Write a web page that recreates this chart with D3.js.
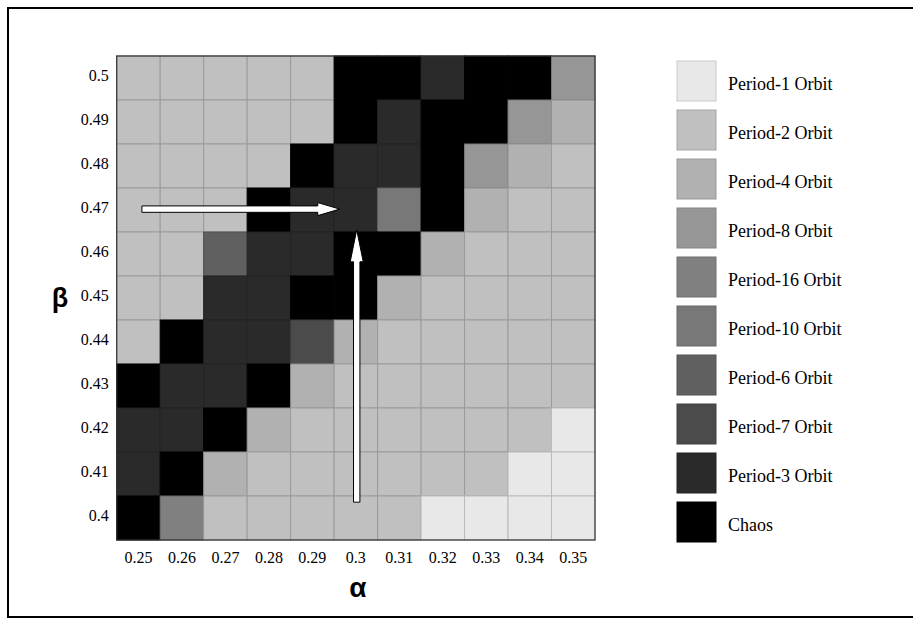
<!DOCTYPE html>
<html>
<head>
<meta charset="utf-8">
<script src="https://cdn.jsdelivr.net/npm/d3@7"></script>
<style>
  html, body { margin: 0; padding: 0; background: #fff; }
  svg { display: block; }
</style>
</head>
<body>
<svg id="chart" width="913" height="619"></svg>
<script>
// ---------------- DATA ----------------
const alphas = [0.25, 0.26, 0.27, 0.28, 0.29, 0.3, 0.31, 0.32, 0.33, 0.34, 0.35];
const betas  = [0.5, 0.49, 0.48, 0.47, 0.46, 0.45, 0.44, 0.43, 0.42, 0.41, 0.4];
const alphaTickLabels = ["0.25","0.26","0.27","0.28","0.29","0.3","0.31","0.32","0.33","0.34","0.35"];
const betaTickLabels  = ["0.5","0.49","0.48","0.47","0.46","0.45","0.44","0.43","0.42","0.41","0.4"];

const orbitLabels = ["Period-1 Orbit","Period-2 Orbit","Period-4 Orbit","Period-8 Orbit",
  "Period-16 Orbit","Period-10 Orbit","Period-6 Orbit","Period-7 Orbit","Period-3 Orbit","Chaos"];
const orbitColors = ["#e8e8e8","#c0c0c0","#b1b1b1","#969696","#808080",
  "#787878","#606060","#4b4b4b","#2a2a2a","#000000"];

// orbit class index per cell: rows = betas (top to bottom), cols = alphas
const orbitGrid = [
  [1,1,1,1,1,9,9,8,9,9,3],
  [1,1,1,1,1,9,8,9,9,3,2],
  [1,1,1,1,9,8,8,9,3,2,1],
  [1,1,1,9,8,8,5,9,2,1,1],
  [1,1,6,8,8,9,9,2,1,1,1],
  [1,1,8,8,9,9,2,1,1,1,1],
  [1,9,8,8,7,2,1,1,1,1,1],
  [9,8,8,9,2,1,1,1,1,1,1],
  [8,8,9,2,1,1,1,1,1,1,0],
  [8,9,2,1,1,1,1,1,1,0,0],
  [9,4,1,1,1,1,1,0,0,0,0]
];

// annotation arrows in (alpha, beta) coordinates
const arrowFrom = [[0.2508, 0.4702], [0.3002, 0.4036]];
const arrowTo   = [[0.2963, 0.4702], [0.3002, 0.4655]];

// ---------------- LAYOUT ----------------
const svg = d3.select("#chart");
const plot = { left: 116.7, right: 595, top: 56, bottom: 540 };

// outer frame (right edge runs off the canvas as in the reference)
svg.append("rect")
  .attr("x", 8).attr("y", 8).attr("width", 920).attr("height", 609)
  .attr("fill", "none").attr("stroke", "#000").attr("stroke-width", 2);

const x = d3.scaleBand().domain(alphas).range([plot.left, plot.right]);
const y = d3.scaleBand().domain(betas).range([plot.top, plot.bottom]);
const xLin = d3.scaleLinear().domain([0.245, 0.355]).range([plot.left, plot.right]);
const yLin = d3.scaleLinear().domain([0.395, 0.505]).range([plot.bottom, plot.top]);
const color = d3.scaleOrdinal().domain(d3.range(orbitLabels.length)).range(orbitColors);

const cells = [];
betas.forEach((b, i) => alphas.forEach((a, j) => cells.push({ a, b, k: orbitGrid[i][j] })));

svg.append("g").selectAll("rect").data(cells).join("rect")
  .attr("x", d => x(d.a)).attr("y", d => y(d.b))
  .attr("width", x.bandwidth()).attr("height", y.bandwidth())
  .attr("fill", d => color(d.k))
  .attr("stroke", d => d3.color(color(d.k)).darker(0.6).formatHex())
  .attr("stroke-width", 1);

// plot frame
svg.append("rect")
  .attr("x", plot.left).attr("y", plot.top)
  .attr("width", plot.right - plot.left).attr("height", plot.bottom - plot.top)
  .attr("fill", "none").attr("stroke", "#333").attr("stroke-width", 1.2);

// axes
const tickFont = "'Liberation Serif', 'Times New Roman', serif";
const xAxis = svg.append("g").attr("transform", `translate(0,${plot.bottom})`)
  .call(d3.axisBottom(x).tickSize(0).tickPadding(0).tickFormat((d, i) => alphaTickLabels[i]));
xAxis.select(".domain").remove();
xAxis.selectAll("text").attr("font-family", tickFont).attr("font-size", 16)
  .attr("fill", "#000").attr("dy", null).attr("y", 23);

const yAxis = svg.append("g").attr("transform", `translate(${plot.left},0)`)
  .call(d3.axisLeft(y).tickSize(0).tickPadding(8).tickFormat((d, i) => betaTickLabels[i]));
yAxis.select(".domain").remove();
yAxis.selectAll("text").attr("font-family", tickFont).attr("font-size", 16)
  .attr("fill", "#000").attr("dy", "0.18em");

// axis titles
svg.append("text").text("α")
  .attr("x", (plot.left + plot.right) / 2 + 2).attr("y", 597)
  .attr("text-anchor", "middle")
  .attr("font-family", "'Liberation Sans', Arial, sans-serif")
  .attr("font-weight", "bold").attr("font-size", 28).attr("fill", "#000");
svg.append("text").text("β")
  .attr("x", 60).attr("y", 307)
  .attr("text-anchor", "middle")
  .attr("font-family", "'Liberation Sans', Arial, sans-serif")
  .attr("font-weight", "bold").attr("font-size", 27).attr("fill", "#000");

// arrows
const arrowHead = [{ len: 22, half: 6.5 }, { len: 32, half: 6.5 }];
const bodyHalf = 3.2;
arrowFrom.forEach((f, i) => {
  const x0 = xLin(f[0]), y0 = yLin(f[1]);
  const x1 = xLin(arrowTo[i][0]), y1 = yLin(arrowTo[i][1]);
  const dx = x1 - x0, dy = y1 - y0, L = Math.hypot(dx, dy);
  const ux = dx / L, uy = dy / L, nx = -uy, ny = ux;
  const h = arrowHead[i];
  const bx = x1 - ux * h.len, by = y1 - uy * h.len;
  const pts = [
    [x0 + nx * bodyHalf, y0 + ny * bodyHalf],
    [bx + nx * bodyHalf, by + ny * bodyHalf],
    [bx + nx * h.half, by + ny * h.half],
    [x1, y1],
    [bx - nx * h.half, by - ny * h.half],
    [bx - nx * bodyHalf, by - ny * bodyHalf],
    [x0 - nx * bodyHalf, y0 - ny * bodyHalf]
  ];
  svg.append("path").attr("d", d3.line()(pts) + "Z")
    .attr("fill", "#fff").attr("stroke", "#000").attr("stroke-width", 1)
    .attr("stroke-linejoin", "miter");
});

// legend
const legendX = 677, legendY = 61, legendStep = 49, sw = 39, sh = 40;
const lg = svg.append("g").selectAll("g").data(orbitLabels).join("g")
  .attr("transform", (d, i) => `translate(${legendX},${legendY + i * legendStep})`);
lg.append("rect").attr("width", sw).attr("height", sh)
  .attr("fill", (d, i) => orbitColors[i])
  .attr("stroke", (d, i) => d3.color(orbitColors[i]).darker(0.4).formatHex())
  .attr("stroke-width", 1);
lg.append("text").text(d => d)
  .attr("x", 51).attr("y", sh / 2 + 9)
  .attr("font-family", tickFont).attr("font-size", 18).attr("fill", "#000");
</script>
</body>
</html>
